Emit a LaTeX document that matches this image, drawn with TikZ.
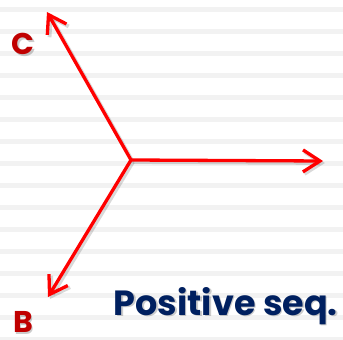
\documentclass[tikz,border=0pt]{standalone}
\usepackage{fontspec}
\setmainfont{Poppins}[UprightFont=* Bold]
\usetikzlibrary{arrows.meta}
\definecolor{stripe}{HTML}{F2F2F2}
\definecolor{phred}{HTML}{FF0000}
\definecolor{lblred}{HTML}{C00000}
\definecolor{navy}{HTML}{002060}
\tikzset{
  phasor/.style={draw=phred, line width=3.3pt, -{Straight Barb[length=17pt,width=22pt,line width=3.3pt]}},
  phshadow/.style={draw=black, opacity=0.15, line width=3.8pt, -{Straight Barb[length=17pt,width=22pt,line width=3.8pt]}},
  lbl/.style={text=lblred, font=\fontsize{30}{30}\selectfont, inner sep=0pt},
  title/.style={text=navy, font=\fontsize{35}{35}\selectfont, inner sep=0pt},
}
\begin{document}
\begin{tikzpicture}[x=1pt,y=-1pt]
\useasboundingbox (0,0) rectangle (343,340);
\fill[white] (0,0) rectangle (343,340);
\foreach \k in {0,...,15} {
  \fill[stripe] (0,{7+22*\k}) rectangle (343,{12+22*\k});
}
\coordinate (o) at (131,160);
\coordinate (os) at (133,162);
\coordinate (a) at (323,161);
\coordinate (as) at (325,163);
\coordinate (c) at (47,12);
\coordinate (cs) at (49,14);
\coordinate (b) at (48,297);
\coordinate (bs) at (50,299);
\draw[phshadow] (os) -- (as);
\draw[phshadow] (os) -- (cs);
\draw[phshadow] (os) -- (bs);
\draw[phasor] (o) -- (a);
\draw[phasor] (o) -- (c);
\draw[phasor] (o) -- (b);
\node[lbl, text=black, opacity=0.2] at (24.5,45.5) {C};
\node[lbl] (C) at (23,44) {C};
\node[lbl, text=black, opacity=0.2] at (24.5,323.5) {B};
\node[lbl] (B) at (23,322) {B};
\node[title, text=black, opacity=0.2, anchor=base east] at (339.5,316.5) {Positive seq.};
\node[title, anchor=base east] (T) at (338,315) {Positive seq.};
\end{tikzpicture}
\end{document}
